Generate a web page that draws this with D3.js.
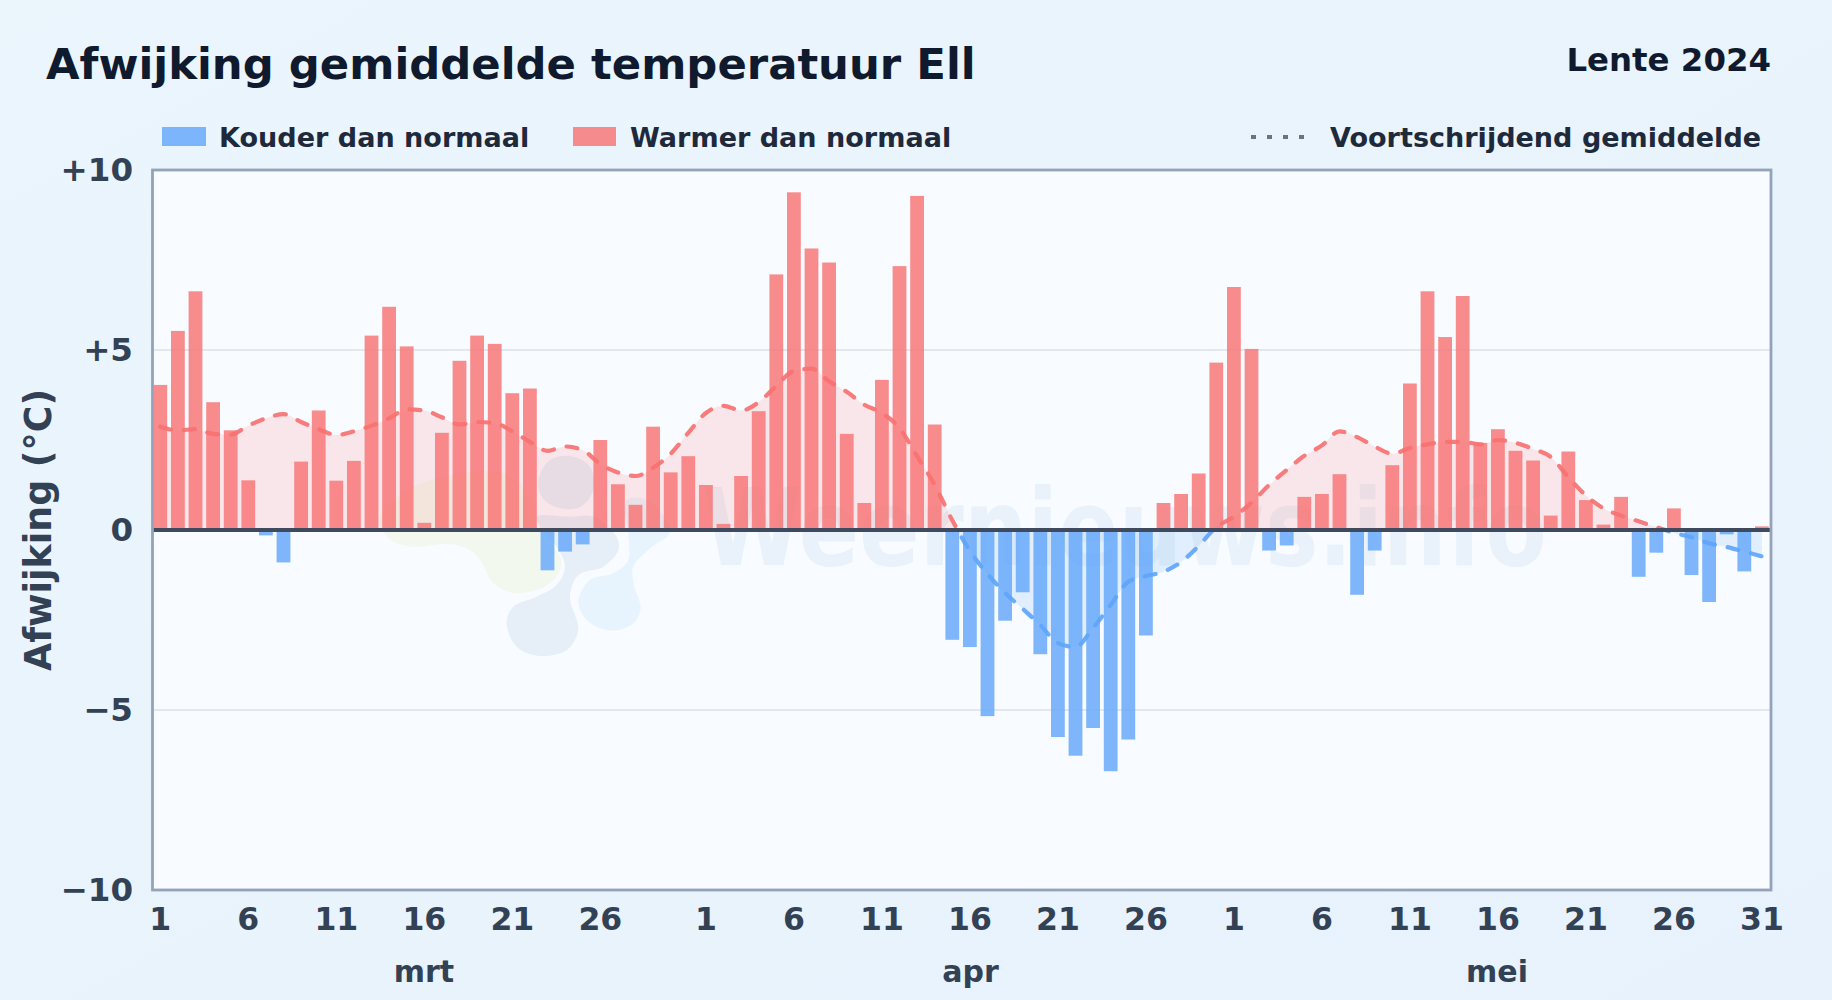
<!DOCTYPE html>
<html><head><meta charset="utf-8">
<script src="https://cdn.jsdelivr.net/npm/d3@7"></script>
<style>
html,body{margin:0;padding:0;background:#e8f3fc;}
svg{display:block;}
text{font-family:"DejaVu Sans",sans-serif;font-weight:700;}
</style></head><body>
<svg id="chart" width="1832" height="1000"></svg>
<script>
const monthLabels = ["mrt","apr","mei"];
const monthDays = [31,30,31];
const tickDays = [1,6,11,16,21,26];
const yTickValues = [10,5,0,-5,-10];
const maart = [4.03,5.53,6.63,3.55,2.77,1.38,-0.15,-0.9,1.9,3.32,1.37,1.92,5.4,6.2,5.1,0.2,2.7,4.7,5.4,5.17,3.8,3.93,-1.12,-0.6,-0.4,2.5,1.27,0.7,2.87,1.6,2.05];
const april = [1.25,0.17,1.5,3.3,7.1,9.38,7.82,7.43,2.67,0.75,4.17,7.33,9.28,2.93,-3.05,-3.25,-5.17,-2.52,-1.73,-3.45,-5.75,-6.27,-5.5,-6.7,-5.82,-2.93,0.75,1.0,1.57,4.65];
const mei = [6.75,5.03,-0.57,-0.43,0.92,1.0,1.55,-1.8,-0.57,1.8,4.07,6.63,5.36,6.5,2.42,2.8,2.2,1.93,0.4,2.18,0.83,0.15,0.92,-1.3,-0.63,0.6,-1.25,-2.0,-0.12,-1.15,0.1];
const gemMaart = [2.87,2.77,2.8,2.67,2.65,2.9,3.1,3.22,3.0,2.8,2.64,2.74,2.9,3.1,3.35,3.32,3.13,2.93,3.0,2.97,2.74,2.45,2.2,2.32,2.22,1.83,1.6,1.5,1.73,2.12,2.7];
const gemApril = [3.25,3.45,3.32,3.55,4.0,4.42,4.48,4.13,3.84,3.48,3.25,2.83,2.05,1.25,0.27,-0.58,-1.22,-1.75,-2.19,-2.64,-3.14,-3.25,-2.72,-2.08,-1.44,-1.28,-1.16,-0.89,-0.44,0.08];
const gemMei = [0.37,0.76,1.25,1.67,2.06,2.35,2.74,2.58,2.32,2.12,2.28,2.38,2.45,2.45,2.38,2.5,2.42,2.25,2.03,1.47,0.96,0.6,0.4,0.24,0.08,-0.08,-0.2,-0.37,-0.47,-0.6,-0.73];
const legendItems = ["Kouder dan normaal","Warmer dan normaal"];
const legendLine = "Voortschrijdend gemiddelde";
const titleText = "Afwijking gemiddelde temperatuur Ell";
const seasonText = "Lente 2024";
const yTitle = "Afwijking (°C)";
const watermarkText = "Weernieuws.info";
const logoA = [[410,610],[430,560],[500,530],[560,495],[585,440],[560,380],[510,320],[500,290],[600,290],[670,290],[740,350],[745,390],[700,440],[625,465],[600,530],[625,630],[590,690],[510,708],[440,680]];
const logoT = [[505,180],[540,120],[600,108],[660,140],[670,210],[630,262],[560,262],[515,230]];
const logoB = [[625,540],[660,480],[730,460],[775,420],[775,340],[770,240],[830,240],[900,335],[840,385],[790,440],[790,490],[812,565],[790,610],[730,632],[670,615],[635,580]];
const logoC = [[40,335],[30,290],[130,200],[400,160],[495,250],[500,320],[550,380],[575,430],[540,490],[440,520],[370,490],[330,420],[290,385],[230,372],[130,380],[70,365]];

const values = [...maart,...april,...mei];
const rolling = [...gemMaart,...gemApril,...gemMei];
const days = values.map((_,i)=>i);
const W=1832,H=1000, L=152.5,R=1771,T=170,B=890;
const COLD="#60a5fa",WARM="#f87171";

const svg=d3.select("#chart");
const defs=svg.append("defs");
const bg=defs.append("linearGradient").attr("id","bg").attr("x1",0).attr("x2",1).attr("y1",0).attr("y2",1);
bg.append("stop").attr("offset",0).attr("stop-color","#ebf5fc");
bg.append("stop").attr("offset",1).attr("stop-color","#e7f2fc");
svg.append("rect").attr("width",W).attr("height",H).attr("fill","url(#bg)");

const x=d3.scaleBand().domain(days).range([151.5,1770.7]).paddingInner(0.216).paddingOuter(0.108);
const y=d3.scaleLinear().domain([-10,10]).range([B,T]);
const cx=i=>x(i)+x.bandwidth()/2;

defs.append("clipPath").attr("id","above").append("rect").attr("x",L).attr("y",T).attr("width",R-L).attr("height",y(0)-T);
defs.append("clipPath").attr("id","below").append("rect").attr("x",L).attr("y",y(0)).attr("width",R-L).attr("height",B-y(0));
defs.append("clipPath").attr("id","plot").append("rect").attr("x",L).attr("y",T).attr("width",R-L).attr("height",B-T);

svg.append("rect").attr("x",L).attr("y",T).attr("width",R-L).attr("height",B-T).attr("fill","#f8fbff");

// watermark
const wm=svg.append("g").attr("clip-path","url(#plot)");
const blob=d3.line().curve(d3.curveCatmullRomClosed.alpha(0.5));
const logoG=wm.append("g").attr("transform","translate(370,420) scale(0.3333)");
logoG.append("path").attr("d",blob(logoC)).attr("fill","#f3f8ef");
logoG.append("path").attr("d",blob(logoB)).attr("fill","#e8f4fd");
logoG.append("path").attr("d",blob(logoA)).attr("fill","#e6eff8");
logoG.append("path").attr("d",blob(logoT)).attr("fill","#e6eff8");
wm.append("text").attr("x",703).attr("y",565).attr("font-size",107)
  .attr("textLength",844).attr("lengthAdjust","spacingAndGlyphs")
  .attr("fill","#e9f2fa").text(watermarkText);

// grid
svg.append("g").selectAll("line").data([5,-5]).join("line")
  .attr("x1",L).attr("x2",R).attr("y1",d=>y(d)).attr("y2",d=>y(d))
  .attr("stroke","#e2e8f0").attr("stroke-width",2);

// area
const area=d3.area().x((d,i)=>cx(i)).y0(y(0)).y1(d=>y(d)).curve(d3.curveMonotoneX);
svg.append("path").datum(rolling).attr("d",area).attr("fill",WARM).attr("fill-opacity",0.15).attr("clip-path","url(#above)");
svg.append("path").datum(rolling).attr("d",area).attr("fill",COLD).attr("fill-opacity",0.15).attr("clip-path","url(#below)");

// bars
svg.append("g").selectAll("rect").data(values).join("rect")
  .attr("x",(d,i)=>x(i)).attr("width",x.bandwidth())
  .attr("y",d=>y(Math.max(0,d))).attr("height",d=>Math.abs(y(d)-y(0)))
  .attr("fill",d=>d<0?COLD:WARM).attr("fill-opacity",0.8);

// line
const line=d3.line().x((d,i)=>cx(i)).y(d=>y(d)).curve(d3.curveMonotoneX);
[["above",WARM],["below",COLD]].forEach(([c,col])=>{
  svg.append("g").attr("clip-path",`url(#${c})`).append("path").datum(rolling).attr("d",line)
    .attr("fill","none").attr("stroke",col).attr("stroke-width",4.2).attr("stroke-opacity",0.92).attr("stroke-dasharray","11,13").attr("stroke-linecap","round");
});

// zero + border
svg.append("line").attr("x1",L).attr("x2",R).attr("y1",y(0)).attr("y2",y(0)).attr("stroke","#3f4a5e").attr("stroke-width",4);
svg.append("rect").attr("x",L).attr("y",T).attr("width",R-L).attr("height",B-T).attr("fill","none").attr("stroke","#94a3b8").attr("stroke-width",2.8);

// axes
const textCol="#334155";
const fmtY=d=>d>0?"+"+d:d===0?"0":"\u2212"+Math.abs(d);
const ay=svg.append("g").attr("transform",`translate(${L},0)`).call(d3.axisLeft(y).tickValues(yTickValues).tickFormat(fmtY).tickSize(0).tickPadding(19.5));
ay.select(".domain").remove();
ay.selectAll("text").attr("font-size",32.5).attr("fill",textCol).attr("font-family","DejaVu Sans").attr("font-weight",700);

const dayLabel=i=>{let k=i;for(const n of monthDays){if(k<n)return k+1;k-=n;}};
const tickIdx=days.filter(i=>{const d=dayLabel(i);return tickDays.includes(d)||d===31&&i===91;});
const ax=svg.append("g").attr("transform",`translate(0,${B})`).call(d3.axisBottom(x).tickValues(tickIdx).tickFormat(dayLabel).tickSize(0).tickPadding(17.2));
ax.select(".domain").remove();
ax.selectAll("text").attr("font-size",31.5).attr("fill",textCol).attr("font-family","DejaVu Sans").attr("font-weight",700);

// month labels
monthLabels.forEach((m,j)=>{
  svg.append("text").attr("x",[424,970.6,1497][j]).attr("y",982).attr("text-anchor","middle").attr("font-size",30).attr("fill",textCol).text(m);
});

svg.append("text").attr("transform","translate(51,530) rotate(-90)").attr("text-anchor","middle").attr("font-size",36.4).attr("fill",textCol).text(yTitle);

// title
svg.append("text").attr("x",46).attr("y",79).attr("font-size",43.35).attr("fill","#0f1a2e").text(titleText);
svg.append("text").attr("x",1771).attr("y",71).attr("text-anchor","end").attr("font-size",32.4).attr("fill","#0f1a2e").text(seasonText);

// legend
const lc="#1e293b";
svg.append("rect").attr("x",162).attr("y",127).attr("width",44).attr("height",19).attr("fill",COLD).attr("fill-opacity",0.8);
svg.append("text").attr("x",219).attr("y",146.5).attr("font-size",27.05).attr("fill",lc).text(legendItems[0]);
svg.append("rect").attr("x",573).attr("y",127).attr("width",43).attr("height",19).attr("fill",WARM).attr("fill-opacity",0.8);
svg.append("text").attr("x",630).attr("y",146.5).attr("font-size",27.05).attr("fill",lc).text(legendItems[1]);
svg.append("line").attr("x1",1251).attr("x2",1308).attr("y1",137).attr("y2",137).attr("stroke","#64748b").attr("stroke-width",4).attr("stroke-dasharray","5,11");
svg.append("text").attr("x",1330).attr("y",146.5).attr("font-size",27.05).attr("fill",lc).text(legendLine);
</script>
</body></html>
